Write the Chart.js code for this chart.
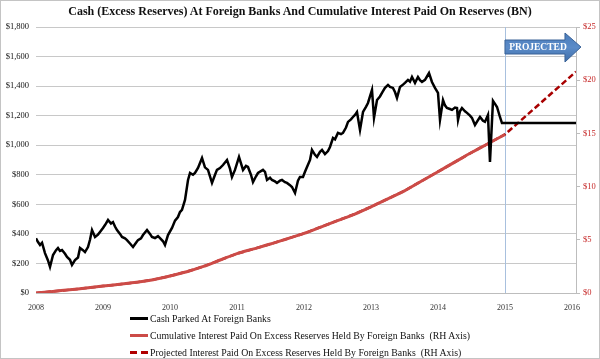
<!DOCTYPE html>
<html>
<head>
<meta charset="utf-8">
<script src="https://cdn.jsdelivr.net/npm/chart.js@4.4.1/dist/chart.umd.min.js"></script>
<style>
    body { margin: 0; background: #fff; }
    #wrap { position: relative; width: 600px; height: 359px; font-family: "Liberation Serif", "DejaVu Serif", serif; }
    #frame { position: absolute; left: 0; top: 0; width: 600px; height: 359px; box-sizing: border-box; border: 1px solid #c4c4c4; pointer-events: none; }
    #title { position: absolute; left: 0; top: 4px; width: 600px; text-align: center; font-weight: bold; font-size: 12px; color: #111; }
    #legend { position: absolute; left: 130px; top: 310px; font-size: 9.8px; color: #111; }
    .row { height: 17px; display: flex; align-items: center; }
    .sw { width: 18px; height: 3px; margin-right: 2px; }
</style>
</head>
<body>
<div id="wrap">
    <canvas id="chart" width="600" height="359"></canvas>
    <div id="title">Cash (Excess Reserves) At Foreign Banks And Cumulative Interest Paid On Reserves (BN)</div>
    <div id="legend">
        <div class="row"><span class="sw" style="background: #000; height: 2.5px;"></span>Cash Parked At Foreign Banks</div>
        <div class="row"><span class="sw" style="background: #cc4b47;"></span>Cumulative Interest Paid On Excess Reserves Held By Foreign Banks&nbsp; (RH Axis)</div>
        <div class="row"><span class="sw" style="background: repeating-linear-gradient(to right, #b00000 0 7px, transparent 7px 11px);"></span>Projected Interest Paid On Excess Reserves Held By Foreign Banks&nbsp; (RH Axis)</div>
    </div>
    <div id="frame"></div>
</div>
<script>
// cash parked at foreign banks, $BN (left axis); last point is the flat projection
const cashYears = [
    2008.000, 2008.030, 2008.060, 2008.090, 2008.134, 2008.179, 2008.209, 2008.254, 2008.299, 2008.328,
    2008.358, 2008.388, 2008.433, 2008.463, 2008.507, 2008.537, 2008.582, 2008.627, 2008.657, 2008.701,
    2008.731, 2008.776, 2008.806, 2008.836, 2008.881, 2008.925, 2008.955, 2009.000, 2009.030, 2009.075,
    2009.119, 2009.149, 2009.179, 2009.209, 2009.254, 2009.284, 2009.328, 2009.358, 2009.403, 2009.448,
    2009.493, 2009.522, 2009.567, 2009.597, 2009.657, 2009.701, 2009.731, 2009.776, 2009.821, 2009.851,
    2009.896, 2009.925, 2009.970, 2010.030, 2010.075, 2010.119, 2010.149, 2010.179, 2010.224, 2010.269,
    2010.299, 2010.343, 2010.373, 2010.418, 2010.448, 2010.478, 2010.522, 2010.567, 2010.597, 2010.627,
    2010.672, 2010.701, 2010.746, 2010.791, 2010.851, 2010.896, 2010.925, 2010.970, 2011.030, 2011.090,
    2011.134, 2011.164, 2011.209, 2011.239, 2011.284, 2011.313, 2011.388, 2011.418, 2011.448, 2011.493,
    2011.522, 2011.567, 2011.597, 2011.642, 2011.672, 2011.716, 2011.746, 2011.791, 2011.821, 2011.866,
    2011.910, 2011.940, 2011.985, 2012.015, 2012.045, 2012.090, 2012.119, 2012.164, 2012.194, 2012.239,
    2012.269, 2012.313, 2012.358, 2012.388, 2012.433, 2012.463, 2012.507, 2012.552, 2012.582, 2012.627,
    2012.657, 2012.701, 2012.731, 2012.761, 2012.791, 2012.836, 2012.881, 2012.925, 2012.955, 2012.985,
    2013.015, 2013.045, 2013.090, 2013.134, 2013.164, 2013.209, 2013.254, 2013.284, 2013.328, 2013.358,
    2013.388, 2013.433, 2013.478, 2013.507, 2013.552, 2013.582, 2013.612, 2013.657, 2013.701, 2013.731,
    2013.761, 2013.806, 2013.836, 2013.866, 2013.910, 2013.955, 2014.000, 2014.030, 2014.075, 2014.104,
    2014.134, 2014.179, 2014.209, 2014.254, 2014.284, 2014.299, 2014.328, 2014.358, 2014.403, 2014.433,
    2014.478, 2014.507, 2014.552, 2014.597, 2014.627, 2014.672, 2014.701, 2014.746, 2014.776, 2014.821,
    2014.851, 2014.881, 2014.925, 2014.955, 2016.060
];
const cashValues = [
    370, 345, 325, 340, 270, 220, 176, 257, 290, 305,
    285, 291, 265, 244, 225, 190, 223, 240, 305, 290,
    277, 311, 360, 426, 379, 395, 413, 440, 460, 494,
    470, 480, 450, 426, 400, 379, 370, 358, 335, 311,
    340, 358, 370, 392, 426, 400, 379, 372, 385, 372,
    350, 325, 392, 440, 490, 514, 548, 562, 630, 765,
    812, 800, 812, 846, 880, 914, 850, 833, 790, 745,
    800, 833, 845, 866, 900, 840, 785, 833, 921, 833,
    860, 853, 800, 751, 790, 812, 833, 820, 765, 780,
    765, 755, 745, 760, 765, 750, 745, 730, 717, 677,
    760, 785, 785, 820, 853, 900, 968, 935, 921, 955,
    968, 940, 960, 988, 1049, 1040, 1083, 1075, 1083, 1120,
    1158, 1175, 1191, 1205, 1225, 1103, 1225, 1260, 1286, 1330,
    1374, 1185, 1306, 1330, 1354, 1388, 1408, 1395, 1388, 1360,
    1320, 1394, 1410, 1422, 1442, 1430, 1462, 1422, 1462, 1440,
    1428, 1442, 1465, 1489, 1428, 1388, 1354, 1171, 1306, 1270,
    1252, 1245, 1239, 1255, 1252, 1171, 1230, 1252, 1230, 1219,
    1200, 1185, 1137, 1170, 1191, 1165, 1158, 1205, 887, 1300,
    1280, 1259, 1191, 1150, 1150
];

// cumulative interest paid on excess reserves, $BN (right axis)
const interestYears = [
    2008.00, 2008.25, 2008.50, 2008.75, 2009.00, 2009.25, 2009.50, 2009.75, 2010.00, 2010.25,
    2010.50, 2010.75, 2011.00, 2011.25, 2011.50, 2011.75, 2012.00, 2012.25, 2012.50, 2012.75,
    2013.00, 2013.25, 2013.50, 2013.75, 2014.00, 2014.25, 2014.50, 2014.75, 2015.00
];
const interestValues = [
    0, 0.15, 0.3, 0.47, 0.65, 0.82, 1.0, 1.25, 1.6, 2.0,
    2.5, 3.1, 3.7, 4.15, 4.6, 5.1, 5.6, 6.2, 6.8, 7.4,
    8.1, 8.85, 9.6, 10.5, 11.4, 12.3, 13.2, 14.05, 14.9
];

// projected interest beyond 2015
const projectedYears = [2016.06];
const projectedValues = [20.8];

const projectionStart = 2015;
const yearTicks = [2008, 2009, 2010, 2011, 2012, 2013, 2014, 2015, 2016];

const pairs = (xs, ys) => xs.map((x, i) => ({ x: x, y: ys[i] }));

const serif = '"Liberation Serif", "DejaVu Serif", serif';

const projectionMarker = {
    id: 'projectionMarker',
    beforeDatasetsDraw(chart) {
        const { ctx, chartArea, scales } = chart;
        const x = Math.round(scales.x.getPixelForValue(projectionStart)) + 0.5;
        ctx.save();
        ctx.strokeStyle = '#a8c0de';
        ctx.lineWidth = 1;
        ctx.beginPath();
        ctx.moveTo(x, chartArea.top);
        ctx.lineTo(x, chartArea.bottom);
        ctx.stroke();
        ctx.restore();
    },
    afterDatasetsDraw(chart) {
        const { ctx, chartArea, scales } = chart;
        const x0 = scales.x.getPixelForValue(projectionStart);
        const t = chartArea.top;
        const neck = x0 + 60, tip = x0 + 76;
        ctx.save();
        const g = ctx.createLinearGradient(0, t + 6, 0, t + 35);
        g.addColorStop(0, '#4a7cbb');
        g.addColorStop(0.5, '#5b8bc8');
        g.addColorStop(1, '#3f6ea9');
        ctx.fillStyle = g;
        ctx.strokeStyle = '#3a6297';
        ctx.lineWidth = 1;
        ctx.beginPath();
        ctx.moveTo(x0, t + 13);
        ctx.lineTo(neck, t + 13);
        ctx.lineTo(neck, t + 6);
        ctx.lineTo(tip, t + 20);
        ctx.lineTo(neck, t + 35);
        ctx.lineTo(neck, t + 27);
        ctx.lineTo(x0, t + 27);
        ctx.closePath();
        ctx.fill();
        ctx.stroke();
        ctx.fillStyle = '#fff';
        ctx.font = 'bold 9.5px ' + serif;
        ctx.textAlign = 'center';
        ctx.textBaseline = 'middle';
        ctx.fillText('PROJECTED', x0 + 33, t + 20.5);
        ctx.restore();
    }
};

new Chart(document.getElementById('chart'), {
    type: 'line',
    data: {
        datasets: [
            {
                label: 'Cash Parked At Foreign Banks',
                data: pairs(cashYears, cashValues),
                yAxisID: 'y',
                borderColor: '#000',
                borderWidth: 2.5,
                pointRadius: 0,
                tension: 0
            },
            {
                label: 'Cumulative Interest Paid On Excess Reserves Held By Foreign Banks  (RH Axis)',
                data: pairs(interestYears, interestValues),
                yAxisID: 'y1',
                borderColor: '#cc4b47',
                borderWidth: 3,
                pointRadius: 0,
                tension: 0.3
            },
            {
                label: 'Projected Interest Paid On Excess Reserves Held By Foreign Banks  (RH Axis)',
                data: pairs(interestYears.concat(projectedYears), interestValues.concat(projectedValues)),
                yAxisID: 'y1',
                borderColor: '#a80000',
                borderWidth: 2.5,
                borderDash: [6, 3],
                pointRadius: 0,
                tension: 0
            }
        ]
    },
    options: {
        responsive: false,
        animation: false,
        layout: { padding: { top: 27, left: 0, right: 0, bottom: 0 } },
        plugins: {
            legend: { display: false },
            title: { display: false },
            tooltip: { enabled: false }
        },
        scales: {
            x: {
                type: 'linear',
                min: 2008,
                max: 2016.06,
                afterBuildTicks: (scale) => { scale.ticks = yearTicks.map(v => ({ value: v })); },
                afterFit: (scale) => { scale.height = 66; },
                grid: { display: false },
                border: { display: true, color: '#bdbdbd' },
                ticks: {
                    color: '#333',
                    font: { family: serif, size: 8 },
                    padding: 2,
                    maxRotation: 0,
                    callback: (v) => String(v)
                }
            },
            y: {
                position: 'left',
                min: 0,
                max: 1800,
                afterFit: (scale) => { scale.width = 36; },
                grid: { color: '#c8c8c8', lineWidth: 1, drawTicks: false },
                border: { display: false },
                ticks: {
                    stepSize: 200,
                    color: '#111',
                    padding: 7,
                    font: { family: serif, size: 8.5 },
                    callback: (v) => '$' + v.toLocaleString('en-US')
                }
            },
            y1: {
                position: 'right',
                min: 0,
                max: 25,
                afterFit: (scale) => { scale.width = 24; },
                grid: { drawOnChartArea: false, color: '#bdbdbd', tickLength: 4 },
                border: { display: true, color: '#bdbdbd' },
                ticks: {
                    stepSize: 5,
                    color: '#c62828',
                    padding: 3,
                    font: { family: serif, size: 8.5 },
                    callback: (v) => '$' + v
                }
            }
        }
    },
    plugins: [projectionMarker]
});
</script>
</body>
</html>
